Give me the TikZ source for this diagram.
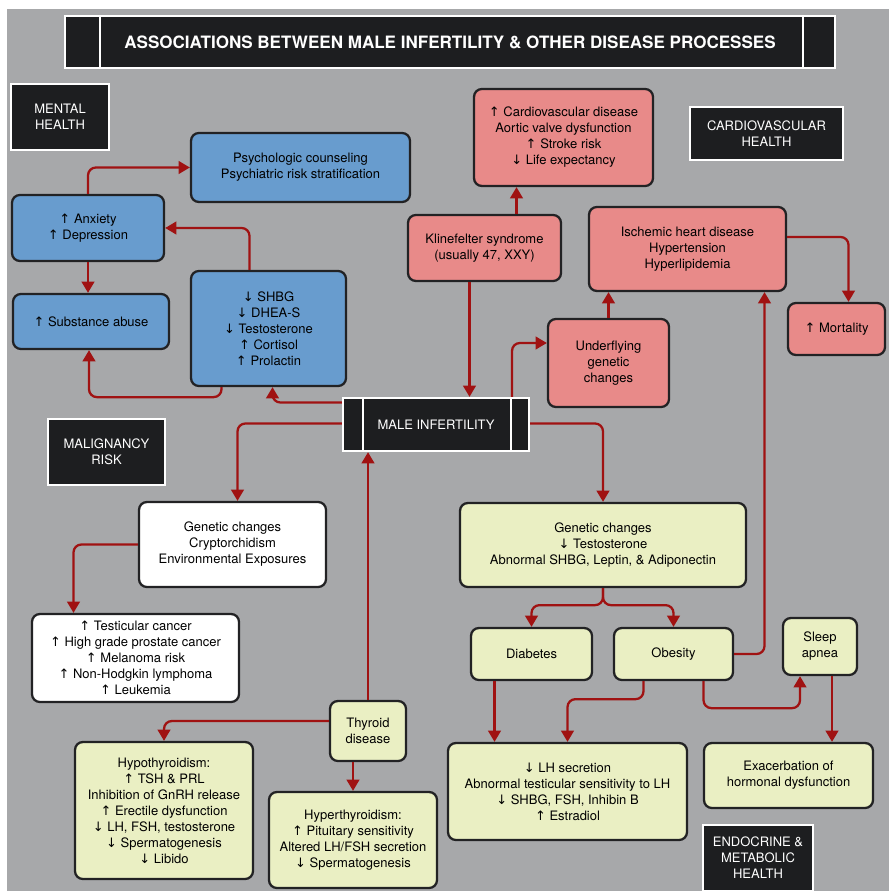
\documentclass[tikz,border=0pt]{standalone}
\usepackage{fontspec}
\setmainfont{TeX Gyre Heros}
\newfontfamily\arrowfont{DejaVu Sans}
\newcommand{\incr}{{\arrowfont ↑}}
\newcommand{\decr}{{\arrowfont ↓}}
\usepackage{tikz}
\usetikzlibrary{arrows.meta, calc}

\definecolor{bggray}{RGB}{167,168,170}
\definecolor{tagblack}{RGB}{29,30,32}
\definecolor{mhblue}{RGB}{104,156,206}
\definecolor{cvpink}{RGB}{232,138,137}
\definecolor{emyellow}{RGB}{234,239,195}
\definecolor{arrowred}{RGB}{160,18,18}
\definecolor{edgegray}{RGB}{34,34,36}

\tikzset{
	txt/.style={font=\fontsize{7.4}{9.1}\selectfont},
	wh/.style 2 args={minimum width=#1*0.02cm, minimum height=#2*0.02cm},
	roundbox/.style={txt, draw=edgegray, line width=1.3pt, rounded corners=4.5pt, align=center, inner sep=1pt},
	bluebox/.style={roundbox, fill=mhblue},
	pinkbox/.style={roundbox, fill=cvpink},
	yelbox/.style={roundbox, fill=emyellow},
	whitebox/.style={roundbox, fill=white},
	tagbox/.style={txt, fill=tagblack, draw=white, line width=1.3pt, text=white, align=center, inner sep=1pt},
	arr/.style={draw=arrowred, line width=1.3pt, rounded corners=4.5pt, -{Triangle[length=6.4pt, width=7.2pt]}}
}

\begin{document}
\begin{tikzpicture}[x=0.02cm, y=-0.02cm]
		\useasboundingbox (0,0) rectangle (889,891);
		\fill[white] (0,0) rectangle (889,891);
		\fill[bggray] (7,9) rectangle (889,891);
		
		\node[tagbox, wh={770}{52}, font=\bfseries\fontsize{9.7}{11}\selectfont] (title) at (450,42) {ASSOCIATIONS BETWEEN MALE INFERTILITY \& OTHER DISEASE PROCESSES};
		\draw[white, line width=1.3pt] ($(title.north west)+(36,0)$) -- ($(title.south west)+(36,0)$);
		\draw[white, line width=1.3pt] ($(title.north east)+(-33,0)$) -- ($(title.south east)+(-33,0)$);
		
		\node[tagbox, wh={98}{66}] (mentaltag) at (60,117) {MENTAL\\HEALTH};
		\node[tagbox, wh={153}{53}] (cvtag) at (766.5,133.5) {CARDIOVASCULAR\\HEALTH};
		\node[tagbox, wh={117}{66}] (maligtag) at (106.5,452) {MALIGNANCY\\RISK};
		\node[tagbox, wh={110}{66}] (endotag) at (758,858) {ENDOCRINE \&\\METABOLIC\\HEALTH};
		
		\node[tagbox, wh={186}{53}] (mi) at (436,424.5) {MALE INFERTILITY};
		\draw[white, line width=1.3pt] ($(mi.north west)+(21,0)$) -- ($(mi.south west)+(21,0)$);
		\draw[white, line width=1.3pt] ($(mi.north east)+(-19,0)$) -- ($(mi.south east)+(-19,0)$);
		
		\node[bluebox, wh={219}{69}] (psych) at (300.5,167.5) {Psychologic counseling\\Psychiatric risk stratification};
		\node[bluebox, wh={152}{66}] (anx) at (88,228) {\incr\ Anxiety\\\incr\ Depression};
		\node[bluebox, wh={156}{55}] (sub) at (91,321.5) {\incr\ Substance abuse};
		\node[bluebox, wh={155}{115}] (hor) at (268.5,328.5) {\decr\ SHBG\\\decr\ DHEA-S\\\decr\ Testosterone\\\incr\ Cortisol\\\incr\ Prolactin};
		
		\node[pinkbox, wh={179}{97}] (cvd) at (563.5,137.5) {\incr\ Cardiovascular disease\\Aortic valve dysfunction\\\incr\ Stroke risk\\\decr\ Life expectancy};
		\node[pinkbox, wh={153}{66}] (kline) at (484.5,248) {Klinefelter syndrome\\(usually 47, XXY)};
		\node[pinkbox, wh={197}{84}] (isch) at (687.5,249) {Ischemic heart disease\\Hypertension\\Hyperlipidemia};
		\node[pinkbox, wh={97}{52}] (mort) at (836.5,329) {\incr\ Mortality};
		\node[pinkbox, wh={121}{88}] (under) at (608.5,363) {Underflying\\genetic\\changes};
		
		\node[whitebox, wh={187}{85}] (wgen) at (232.5,544.5) {Genetic changes\\Cryptorchidism\\Environmental Exposures};
		\node[whitebox, wh={207}{88}] (cancer) at (135.5,658) {\incr\ Testicular cancer\\\incr\ High grade prostate cancer\\\incr\ Melanoma risk\\\incr\ Non-Hodgkin lymphoma\\\incr\ Leukemia};
		
		\node[yelbox, wh={76}{60}] (thy) at (368,731) {Thyroid\\disease};
		\node[yelbox, wh={178}{137}] (hypo) at (164,810.5) {Hypothyroidism:\\\incr\ TSH \& PRL\\Inhibition of GnRH release\\\incr\ Erectile dysfunction\\\decr\ LH, FSH, testosterone\\\decr\ Spermatogenesis\\\decr\ Libido};
		\node[yelbox, wh={168}{96}] (hyper) at (353,840) {Hyperthyroidism:\\\incr\ Pituitary sensitivity\\Altered LH/FSH secretion\\\decr\ Spermatogenesis};
		\node[yelbox, wh={286}{84}] (ygen) at (603,545) {Genetic changes\\\decr\ Testosterone\\Abnormal SHBG, Leptin, \& Adiponectin};
		\node[yelbox, wh={121}{52}] (diab) at (531.5,654) {Diabetes};
		\node[yelbox, wh={119}{52}] (obe) at (673.5,654) {Obesity};
		\node[yelbox, wh={74}{57}] (sleep) at (820,646.5) {Sleep\\apnea};
		\node[yelbox, wh={239}{97}] (lh) at (567.5,791.5) {\decr\ LH secretion\\Abnormal testicular sensitivity to LH\\\decr\ SHBG, FSH, Inhibin B\\\incr\ Estradiol};
		\node[yelbox, wh={169}{65}] (exac) at (788.5,775.5) {Exacerbation of\\hormonal dysfunction};
		
		\draw[arr] (anx.north) |- (psych.west);
		\draw[arr] ($(hor.north)+(-19,0)$) |- (anx.east);
		\draw[arr] (anx.south) -- (anx.south |- sub.north);
		\draw[arr] ($(hor.south)+(-47,0)$) -- ++(0,10) -| ($(sub.south)+(-2,0)$);
		\draw[arr] ($(mi.west)+(0,-22)$) -| ($(hor.south)+(4,0)$);
		
		\draw[arr] ($(kline.north)+(32,0)$) coordinate (k1) -- (k1 |- cvd.south);
		\draw[arr] ($(kline.south)+(-15,0)$) coordinate (k2) -- (k2 |- mi.north);
		\draw[arr] ($(mi.north)+(76,0)$) |- ($(under.west)+(0,-20)$);
		\draw[arr] (under.north) -- (under.north |- isch.south);
		\draw[arr] ($(isch.east)+(0,-12)$) -| ($(mort.north)+(12,0)$);
		\draw[arr] (obe.east) -| ($(isch.south)+(77,0)$);
		
		\draw[arr] ($(mi.west)+(0,-1)$) -| ($(wgen.north)+(5,0)$);
		\draw[arr] (wgen.west) -| ($(cancer.north)+(-62,0)$);
		\draw[arr] (thy.north) -- (thy.north |- mi.south);
		\draw[arr] ($(thy.west)+(0,-10)$) -| (hypo.north);
		\draw[arr] (thy.south -| hyper.north) -- (hyper.north);
		
		\draw[arr] ($(mi.east)+(0,-1)$) -| (ygen.north);
		\draw[arr] (ygen.south) -- ++(0,17) -| (diab.north);
		\draw[arr] (ygen.south) -- ++(0,17) -| (obe.north);
		\draw[arr] ($(diab.south)+(-37,0)$) coordinate (d1) -- (d1 |- lh.north);
		\draw[arr] ($(obe.south)+(-30,0)$) -- ++(0,18) -| (lh.north);
		\draw[arr] ($(obe.south)+(30,0)$) -- ++(0,27) -| ($(sleep.south)+(-20,0)$);
		\draw[arr] ($(sleep.south)+(12,0)$) coordinate (s1) -- (s1 |- exac.north);
	\end{tikzpicture}
\end{document}
